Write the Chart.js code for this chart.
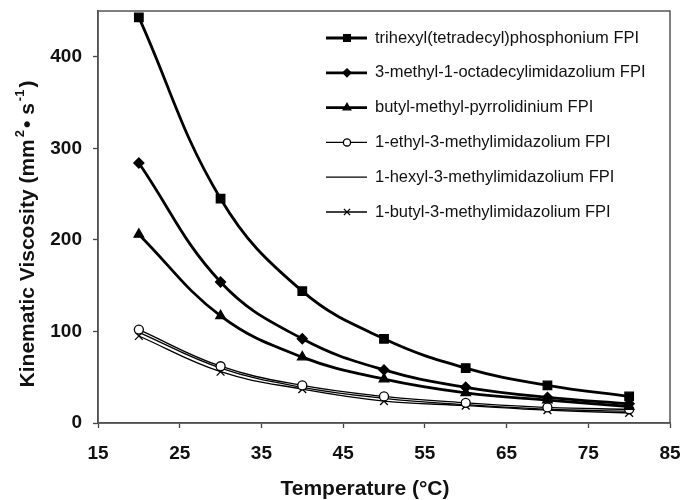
<!DOCTYPE html>
<html><head><meta charset="utf-8">
<script src="https://cdn.jsdelivr.net/npm/chart.js@4/dist/chart.umd.min.js"></script>
<style>html,body{margin:0;padding:0;background:#fff}#wrap{width:681px;height:500px}</style>
</head><body><div id="wrap"><canvas id="c" width="681" height="500"></canvas></div>
<script>
const temperatures = [20, 30, 40, 50, 60, 70, 80];
const seriesNames = [
  'trihexyl(tetradecyl)phosphonium FPI',
  '3-methyl-1-octadecylimidazolium FPI',
  'butyl-methyl-pyrrolidinium FPI',
  '1-ethyl-3-methylimidazolium FPI',
  '1-hexyl-3-methylimidazolium FPI',
  '1-butyl-3-methylimidazolium FPI'
];
const phosphonium = [443, 245, 144, 92, 60, 41, 29];
const octadecylimidazolium = [284, 154, 92, 58, 39, 28, 21];
const pyrrolidinium = [206, 117, 72, 48, 33, 25, 18];
const ethylimidazolium = [102, 62, 41, 29, 22, 17, 15];
const hexylimidazolium = [99, 60, 39, 27, 20, 15, 13];
const butylimidazolium = [95, 56, 37, 24, 19, 14, 11];
const xTicks = [15, 25, 35, 45, 55, 65, 75, 85];
const yTicks = [0, 100, 200, 300, 400];
const xTitle = 'Temperature (°C)';
const yTitleParts = [['Kinematic Viscosity (mm', false], ['2', true], ['• s', false], ['-1', true], [')', false]];

const allSeries = [phosphonium, octadecylimidazolium, pyrrolidinium, ethylimidazolium, hexylimidazolium, butylimidazolium];
const styles = [
  {pointStyle: 'rect', radius: 6, width: 2.8, fill: '#000'},
  {pointStyle: 'rectRot', radius: 5, width: 2.8, fill: '#000'},
  {pointStyle: 'triangle', radius: 5.5, width: 2.8, fill: '#000'},
  {pointStyle: 'circle', radius: 4.5, width: 1.3, fill: '#fff'},
  {pointStyle: false, radius: 0, width: 1.3, fill: '#000'},
  {pointStyle: 'crossRot', radius: 5.5, width: 1.3, fill: '#000'}
];

const datasets = allSeries.map((vals, i) => ({
  label: seriesNames[i],
  data: temperatures.map((t, j) => ({x: t, y: vals[j]})),
  borderColor: '#000',
  backgroundColor: styles[i].fill,
  borderWidth: styles[i].width,
  pointStyle: styles[i].pointStyle,
  pointRadius: styles[i].radius,
  pointBorderWidth: 1.3,
  pointBorderColor: '#000',
  pointBackgroundColor: styles[i].fill,
  tension: 0.4,
  fill: false
}));

const FONT = '"Liberation Sans", Arial, sans-serif';

const frame = {
  id: 'frame',
  afterDraw(chart) {
    const {ctx, chartArea: a} = chart;
    ctx.save();
    ctx.strokeStyle = '#555';
    ctx.lineWidth = 1.5;
    ctx.strokeRect(a.left, a.top, a.right - a.left, a.bottom - a.top);
    ctx.restore();
  }
};

const titles = {
  id: 'titles',
  afterDraw(chart) {
    const ctx = chart.ctx;
    ctx.save();
    ctx.fillStyle = '#111';
    ctx.textBaseline = 'alphabetic';
    // x title
    ctx.font = 'bold 21px ' + FONT;
    ctx.textAlign = 'center';
    ctx.fillText(xTitle, 365, 495);
    // y title, rotated, with superscripts
    const big = 'bold 21px ' + FONT, small = 'bold 13px ' + FONT;
    let total = 0;
    yTitleParts.forEach(([t, sup]) => { ctx.font = sup ? small : big; total += ctx.measureText(t).width + (sup ? 4 : 0); });
    ctx.translate(34, 234);
    ctx.rotate(-Math.PI / 2);
    ctx.textAlign = 'left';
    let x = -total / 2;
    yTitleParts.forEach(([t, sup]) => {
      ctx.font = sup ? small : big;
      if (sup) x += 2;
      ctx.fillText(t, x, sup ? -10 : 0);
      x += ctx.measureText(t).width + (sup ? 2 : 0);
    });
    ctx.restore();
  }
};

const insideLegend = {
  id: 'insideLegend',
  afterDraw(chart) {
    const ctx = chart.ctx;
    ctx.save();
    chart.data.datasets.forEach((ds, i) => {
      const y = 38 + i * 34.8;
      ctx.strokeStyle = '#000';
      ctx.lineWidth = ds.borderWidth;
      ctx.beginPath();
      ctx.moveTo(326, y);
      ctx.lineTo(367, y);
      ctx.stroke();
      if (ds.pointStyle) {
        ctx.fillStyle = ds.pointBackgroundColor;
        ctx.strokeStyle = '#000';
        ctx.lineWidth = 1.3;
        Chart.helpers.drawPoint(ctx, {pointStyle: ds.pointStyle, radius: ds.pointRadius * 0.8, rotation: 0, borderWidth: 1.3}, 347, y);
      }
      ctx.fillStyle = '#111';
      ctx.font = '16.5px ' + FONT;
      ctx.textBaseline = 'middle';
      ctx.textAlign = 'left';
      ctx.fillText(ds.label, 375, y);
    });
    ctx.restore();
  }
};

const noPad = s => { s.paddingLeft = 0; s.paddingRight = 0; s.paddingTop = 0; s.paddingBottom = 0; };

new Chart(document.getElementById('c'), {
  type: 'line',
  data: {datasets},
  plugins: [frame, insideLegend, titles],
  options: {
    responsive: false,
    devicePixelRatio: 1,
    animation: false,
    layout: {padding: {top: 11, right: 11, left: 0, bottom: 0}},
    plugins: {legend: {display: false}, tooltip: {enabled: false}},
    scales: {
      x: {
        type: 'linear', min: 15, max: 85,
        afterBuildTicks: s => { s.ticks = xTicks.map(v => ({value: v})); },
        afterFit: s => { s.height = 77; noPad(s); },
        grid: {drawOnChartArea: false, drawTicks: true, tickLength: 5, tickColor: '#444', tickWidth: 1.3},
        border: {color: '#444', width: 1.5},
        ticks: {font: {family: FONT, size: 19, weight: 'bold'}, color: '#111', padding: 14, maxRotation: 0},
        title: {display: false}
      },
      y: {
        type: 'linear', min: 0, max: 450,
        afterBuildTicks: s => { s.ticks = yTicks.map(v => ({value: v})); },
        afterFit: s => { s.width = 98; noPad(s); },
        grid: {drawOnChartArea: false, drawTicks: true, tickLength: 5, tickColor: '#444', tickWidth: 1.3},
        border: {color: '#444', width: 1.5},
        ticks: {font: {family: FONT, size: 19, weight: 'bold'}, color: '#111', padding: 11},
        title: {display: false}
      }
    }
  }
});
</script>
</body></html>
